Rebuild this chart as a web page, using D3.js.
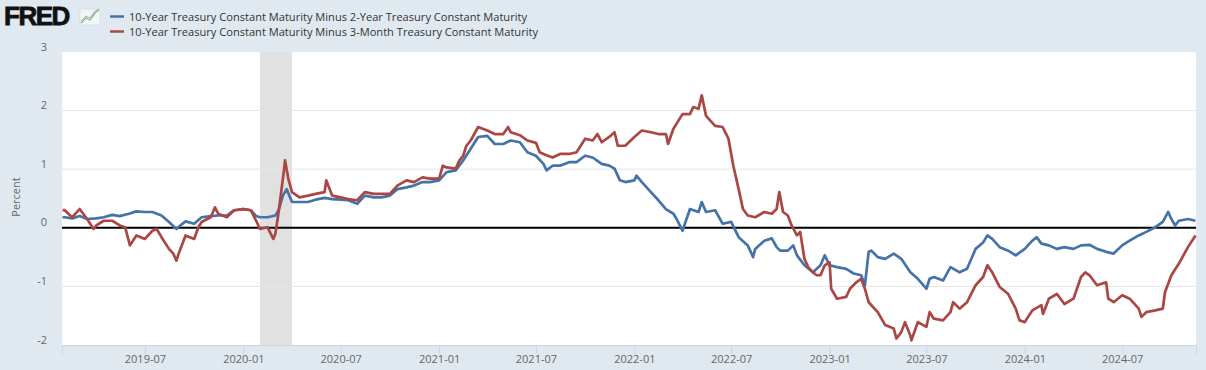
<!DOCTYPE html>
<html>
<head>
<meta charset="utf-8">
<script src="https://cdn.jsdelivr.net/npm/d3@7"></script>
<style>
  body { margin: 0; background: #e1e9f0; }
  svg { display: block; font-family: "Open Sans", "Noto Sans", sans-serif; }
</style>
</head>
<body>
<div id="chart"></div>
<script>
// series names for the legend
var seriesNames = [
  "10-Year Treasury Constant Maturity Minus 2-Year Treasury Constant Maturity",
  "10-Year Treasury Constant Maturity Minus 3-Month Treasury Constant Maturity"
]
var seriesColors = ["#4572a7", "#aa4643"]

// 10Y minus 2Y (percent)
var spread10y2y = [
  ["2019-01-28",0.18],["2019-02-01",0.18],["2019-02-15",0.16],["2019-03-01",0.20],["2019-03-15",0.15],
  ["2019-04-01",0.16],["2019-04-15",0.18],["2019-05-01",0.22],["2019-05-15",0.20],["2019-06-01",0.24],
  ["2019-06-15",0.28],["2019-07-01",0.27],["2019-07-15",0.27],["2019-08-01",0.21],["2019-08-15",0.10],
  ["2019-08-29",-0.02],["2019-09-01",0.01],["2019-09-15",0.11],["2019-10-01",0.07],["2019-10-15",0.18],
  ["2019-11-01",0.20],["2019-11-15",0.21],["2019-12-01",0.21],["2019-12-15",0.30],["2020-01-01",0.32],
  ["2020-01-15",0.30],["2020-01-25",0.20],["2020-02-01",0.18],["2020-02-15",0.18],["2020-03-01",0.21],
  ["2020-03-07",0.30],["2020-03-15",0.55],["2020-03-22",0.66],["2020-04-01",0.44],["2020-04-15",0.44],
  ["2020-05-01",0.44],["2020-05-15",0.48],["2020-06-01",0.51],["2020-06-15",0.49],["2020-07-01",0.48],
  ["2020-07-15",0.47],["2020-08-01",0.41],["2020-08-15",0.55],["2020-09-01",0.52],["2020-09-15",0.52],
  ["2020-10-01",0.55],["2020-10-15",0.66],["2020-11-01",0.69],["2020-11-15",0.72],["2020-12-01",0.78],
  ["2020-12-15",0.78],["2021-01-01",0.81],["2021-01-15",0.95],["2021-02-01",0.98],["2021-02-15",1.15],
  ["2021-03-01",1.35],["2021-03-15",1.55],["2021-04-01",1.57],["2021-04-15",1.43],["2021-05-01",1.43],
  ["2021-05-15",1.49],["2021-06-01",1.46],["2021-06-15",1.29],["2021-07-01",1.23],["2021-07-15",1.09],
  ["2021-07-21",0.98],["2021-08-01",1.06],["2021-08-15",1.06],["2021-09-01",1.12],["2021-09-15",1.12],
  ["2021-10-01",1.23],["2021-10-15",1.20],["2021-11-01",1.09],["2021-11-15",1.06],["2021-11-25",1.01],
  ["2021-12-05",0.81],["2021-12-15",0.78],["2022-01-01",0.81],["2022-01-05",0.89],["2022-01-15",0.78],
  ["2022-02-01",0.61],["2022-02-15",0.47],["2022-03-01",0.32],["2022-03-15",0.24],["2022-03-21",0.15],
  ["2022-04-01",-0.05],["2022-04-15",0.32],["2022-05-01",0.27],["2022-05-07",0.44],["2022-05-15",0.27],
  ["2022-06-01",0.30],["2022-06-15",0.07],["2022-07-01",0.10],["2022-07-15",-0.16],["2022-08-01",-0.30],
  ["2022-08-11",-0.50],["2022-08-15",-0.36],["2022-09-01",-0.22],["2022-09-15",-0.18],["2022-09-24",-0.33],
  ["2022-10-01",-0.39],["2022-10-15",-0.39],["2022-10-25",-0.30],["2022-11-01",-0.47],["2022-11-15",-0.64],
  ["2022-12-01",-0.76],["2022-12-15",-0.64],["2022-12-23",-0.47],["2023-01-01",-0.64],["2023-01-15",-0.67],
  ["2023-02-01",-0.70],["2023-02-15",-0.78],["2023-03-01",-0.81],["2023-03-08",-0.98],["2023-03-15",-0.41],
  ["2023-03-20",-0.39],["2023-04-01",-0.50],["2023-04-15",-0.53],["2023-05-01",-0.44],["2023-05-15",-0.53],
  ["2023-06-01",-0.76],["2023-06-15",-0.87],["2023-07-01",-1.04],["2023-07-07",-0.87],["2023-07-15",-0.84],
  ["2023-08-01",-0.90],["2023-08-15",-0.67],["2023-09-01",-0.76],["2023-09-15",-0.70],["2023-10-01",-0.36],
  ["2023-10-15",-0.25],["2023-10-23",-0.13],["2023-11-01",-0.19],["2023-11-15",-0.33],["2023-12-01",-0.39],
  ["2023-12-15",-0.47],["2024-01-01",-0.36],["2024-01-15",-0.22],["2024-01-23",-0.16],["2024-02-01",-0.27],
  ["2024-02-15",-0.30],["2024-03-01",-0.36],["2024-03-15",-0.33],["2024-04-01",-0.36],["2024-04-15",-0.30],
  ["2024-05-01",-0.29],["2024-05-15",-0.36],["2024-06-01",-0.41],["2024-06-15",-0.44],["2024-07-01",-0.30],
  ["2024-07-15",-0.22],["2024-08-01",-0.13],["2024-08-15",-0.07],["2024-09-01",0.01],["2024-09-15",0.10],
  ["2024-09-25",0.27],["2024-10-01",0.15],["2024-10-08",0.04],["2024-10-15",0.12],["2024-11-01",0.15],
  ["2024-11-15",0.12]
]

// 10Y minus 3M (percent)
var spread10y3m = [
  ["2019-01-28",0.30],["2019-02-01",0.30],["2019-02-15",0.18],["2019-03-01",0.32],["2019-03-15",0.15],
  ["2019-03-27",-0.02],["2019-04-01",0.04],["2019-04-15",0.12],["2019-05-01",0.12],["2019-05-15",0.04],
  ["2019-05-25",0.01],["2019-06-03",-0.30],["2019-06-15",-0.13],["2019-07-01",-0.19],["2019-07-15",-0.05],
  ["2019-07-23",-0.02],["2019-08-01",-0.16],["2019-08-15",-0.36],["2019-08-23",-0.44],["2019-08-29",-0.56],
  ["2019-09-01",-0.47],["2019-09-15",-0.13],["2019-10-01",-0.19],["2019-10-09",0.01],["2019-10-15",0.10],
  ["2019-11-01",0.18],["2019-11-09",0.35],["2019-11-15",0.24],["2019-12-01",0.18],["2019-12-15",0.30],
  ["2020-01-01",0.32],["2020-01-15",0.30],["2020-01-25",0.12],["2020-02-01",-0.02],["2020-02-15",0.01],
  ["2020-02-26",-0.19],["2020-03-01",-0.10],["2020-03-07",0.27],["2020-03-15",0.84],["2020-03-19",1.15],
  ["2020-03-25",0.84],["2020-04-01",0.61],["2020-04-15",0.52],["2020-05-01",0.55],["2020-05-15",0.58],
  ["2020-06-01",0.61],["2020-06-04",0.81],["2020-06-15",0.55],["2020-07-01",0.52],["2020-07-15",0.49],
  ["2020-08-01",0.47],["2020-08-15",0.61],["2020-09-01",0.58],["2020-09-15",0.58],["2020-10-01",0.58],
  ["2020-10-15",0.72],["2020-11-01",0.81],["2020-11-15",0.78],["2020-12-01",0.86],["2020-12-15",0.84],
  ["2021-01-01",0.84],["2021-01-08",1.06],["2021-01-15",1.03],["2021-02-01",1.01],["2021-02-08",1.15],
  ["2021-02-15",1.23],["2021-02-21",1.40],["2021-03-01",1.49],["2021-03-15",1.72],["2021-04-01",1.66],
  ["2021-04-15",1.60],["2021-05-01",1.60],["2021-05-10",1.72],["2021-05-15",1.63],["2021-06-01",1.58],
  ["2021-06-15",1.49],["2021-07-01",1.45],["2021-07-08",1.29],["2021-07-15",1.26],["2021-08-01",1.20],
  ["2021-08-15",1.26],["2021-09-01",1.26],["2021-09-15",1.29],["2021-10-01",1.52],["2021-10-15",1.49],
  ["2021-10-24",1.60],["2021-11-01",1.46],["2021-11-15",1.55],["2021-11-25",1.63],["2021-12-01",1.40],
  ["2021-12-15",1.40],["2022-01-01",1.55],["2022-01-15",1.66],["2022-02-01",1.63],["2022-02-15",1.60],
  ["2022-03-01",1.60],["2022-03-05",1.43],["2022-03-15",1.69],["2022-04-01",1.94],["2022-04-15",1.94],
  ["2022-04-21",2.06],["2022-05-01",2.03],["2022-05-07",2.26],["2022-05-15",1.91],["2022-06-01",1.74],
  ["2022-06-15",1.72],["2022-06-26",1.52],["2022-07-05",1.06],["2022-07-15",0.66],["2022-07-23",0.32],
  ["2022-08-01",0.21],["2022-08-15",0.18],["2022-09-01",0.27],["2022-09-15",0.24],["2022-09-24",0.32],
  ["2022-09-29",0.61],["2022-10-06",0.27],["2022-10-15",0.21],["2022-10-22",0.04],["2022-11-01",-0.13],
  ["2022-11-07",-0.07],["2022-11-15",-0.53],["2022-11-22",-0.67],["2022-12-01",-0.76],["2022-12-08",-0.81],
  ["2022-12-15",-0.81],["2022-12-23",-0.64],["2023-01-01",-0.59],["2023-01-04",-1.04],["2023-01-15",-1.21],
  ["2023-02-01",-1.18],["2023-02-08",-1.04],["2023-02-20",-0.93],["2023-03-01",-0.87],["2023-03-08",-1.04],
  ["2023-03-15",-1.27],["2023-04-01",-1.44],["2023-04-15",-1.66],["2023-05-01",-1.72],["2023-05-06",-1.89],
  ["2023-05-15",-1.78],["2023-05-22",-1.61],["2023-06-01",-1.84],["2023-06-03",-1.92],["2023-06-15",-1.61],
  ["2023-07-01",-1.69],["2023-07-07",-1.44],["2023-07-15",-1.55],["2023-08-01",-1.58],["2023-08-15",-1.44],
  ["2023-08-20",-1.27],["2023-09-01",-1.38],["2023-09-15",-1.27],["2023-10-01",-0.98],["2023-10-15",-0.84],
  ["2023-10-23",-0.64],["2023-11-01",-0.76],["2023-11-15",-1.01],["2023-12-01",-1.13],["2023-12-15",-1.38],
  ["2023-12-22",-1.58],["2024-01-01",-1.61],["2024-01-07",-1.52],["2024-01-15",-1.41],["2024-02-01",-1.32],
  ["2024-02-04",-1.47],["2024-02-15",-1.21],["2024-03-01",-1.13],["2024-03-15",-1.30],["2024-04-01",-1.21],
  ["2024-04-15",-0.84],["2024-04-23",-0.76],["2024-05-01",-0.81],["2024-05-15",-0.98],["2024-06-01",-0.93],
  ["2024-06-05",-1.21],["2024-06-15",-1.27],["2024-07-01",-1.15],["2024-07-15",-1.21],["2024-08-01",-1.38],
  ["2024-08-06",-1.52],["2024-08-15",-1.44],["2024-09-01",-1.41],["2024-09-15",-1.38],["2024-09-19",-1.10],
  ["2024-10-01",-0.81],["2024-10-15",-0.61],["2024-11-01",-0.33],["2024-11-15",-0.13]
]

var yTicks = [-2, -1, 0, 1, 2, 3]
var xTicks = ["2019-07-01","2020-01-01","2020-07-01","2021-01-01","2021-07-01","2022-01-01",
              "2022-07-01","2023-01-01","2023-07-01","2024-01-01","2024-07-01"]
var xDomain = ["2019-01-27", "2024-11-16"]
var recession = ["2020-02-01", "2020-04-01"]

var width = 1206, height = 370
var margin = {top: 52, right: 10, bottom: 25, left: 62}
var parse = d3.timeParse("%Y-%m-%d")

var svg = d3.select("#chart").append("svg")
    .attr("width", width)
    .attr("height", height)

svg.append("rect").attr("width", width).attr("height", height).attr("fill", "#e1e9f0")

var x_scale = d3.scaleTime()
    .domain(xDomain.map(parse))
    .range([margin.left, width - margin.right])

var y_scale = d3.scaleLinear()
    .domain([-2, 3])
    .range([height - margin.bottom, margin.top])

// plot background
svg.append("rect")
    .attr("x", margin.left)
    .attr("y", margin.top)
    .attr("width", width - margin.right - margin.left)
    .attr("height", height - margin.bottom - margin.top)
    .attr("fill", "#ffffff")

// recession band
svg.append("rect")
    .attr("x", x_scale(parse(recession[0])))
    .attr("y", margin.top)
    .attr("width", x_scale(parse(recession[1])) - x_scale(parse(recession[0])))
    .attr("height", height - margin.bottom - margin.top)
    .attr("fill", "#e1e1e1")

// horizontal grid
svg.append("g").selectAll("line")
    .data(yTicks.filter(function(d){ return d > -2 && d < 3 }))
  .enter().append("line")
    .attr("x1", margin.left)
    .attr("x2", width - margin.right)
    .attr("y1", function(d){ return y_scale(d) })
    .attr("y2", function(d){ return y_scale(d) })
    .attr("stroke", "#e6e6e6")
    .attr("stroke-width", 1)

// y labels
svg.append("g").selectAll("text")
    .data(yTicks)
  .enter().append("text")
    .attr("x", 47)
    .attr("y", function(d){ return y_scale(d) - 1.5 })
    .attr("text-anchor", "end")
    .attr("font-size", 11)
    .attr("fill", "#666666")
    .text(function(d){ return d })

svg.append("text")
    .attr("transform", "translate(20,197) rotate(-90)")
    .attr("text-anchor", "middle")
    .attr("font-size", 11)
    .attr("fill", "#666666")
    .text("Percent")

// x axis
var xAxis = d3.axisBottom(x_scale)
    .tickValues(xTicks.map(parse))
    .tickFormat(d3.timeFormat("%Y-%m"))
    .tickSize(9)
    .tickPadding(1)

var gx = svg.append("g")
    .attr("transform", "translate(0," + (height - margin.bottom) + ")")
    .call(xAxis)
gx.select(".domain").attr("stroke", "#ccd6eb")
gx.selectAll(".tick line").attr("stroke", "#ccd6eb")
gx.selectAll(".tick text")
    .attr("font-size", 11)
    .attr("fill", "#666666")
    .attr("font-family", "Open Sans, Noto Sans, sans-serif")

// zero line
svg.append("line")
    .attr("x1", margin.left)
    .attr("x2", width - margin.right)
    .attr("y1", y_scale(0))
    .attr("y2", y_scale(0))
    .attr("stroke", "#000000")
    .attr("stroke-width", 2)

var plot_line = d3.line()
    .x(function(d){ return x_scale(parse(d[0])) })
    .y(function(d){ return y_scale(d[1]) })

;[spread10y2y, spread10y3m].forEach(function(series, i){
  svg.append("path")
    .datum(series)
    .attr("d", plot_line)
    .attr("fill", "none")
    .attr("stroke", seriesColors[i])
    .attr("stroke-width", 2.7)
    .attr("stroke-linejoin", "round")
})

// FRED logo
svg.append("text")
    .attr("x", 4)
    .attr("y", 25)
    .attr("font-family", "Liberation Sans, Arial, sans-serif")
    .attr("font-weight", 900)
    .attr("font-size", 26)
    .attr("letter-spacing", -1.5)
    .attr("fill", "#111111")
    .attr("stroke", "#111111")
    .attr("stroke-width", 0.8)
    .text("FRED")
svg.append("rect")
    .attr("x", 80).attr("y", 9).attr("width", 20).attr("height", 16)
    .attr("fill", "#f2f5f7").attr("stroke", "#c9d3dc").attr("stroke-width", 0.6)
svg.append("path")
    .attr("d", "M81,23 L86,18 L90,20 L95,13 L99,10")
    .attr("fill", "none").attr("stroke", "#8cbc6c").attr("stroke-width", 1.3)
svg.append("path")
    .attr("d", "M81,21 L86,16 L90,18 L95,11 L99,9")
    .attr("fill", "none").attr("stroke", "#7aa0c4").attr("stroke-width", 0.8)

// legend
var legend = svg.append("g").selectAll("g")
    .data(seriesNames)
  .enter().append("g")
    .attr("transform", function(d, i){ return "translate(0," + (16.5 + i * 15) + ")" })

legend.append("line")
    .attr("x1", 110).attr("x2", 124)
    .attr("y1", 0).attr("y2", 0)
    .attr("stroke", function(d, i){ return seriesColors[i] })
    .attr("stroke-width", 2.5)

legend.append("text")
    .attr("x", 129)
    .attr("y", 4)
    .attr("font-size", 11)
    .attr("fill", "#333333")
    .attr("textLength", function(d, i){ return i == 0 ? 398 : 409 })
    .attr("lengthAdjust", "spacingAndGlyphs")
    .text(function(d){ return d })
</script>
</body>
</html>
